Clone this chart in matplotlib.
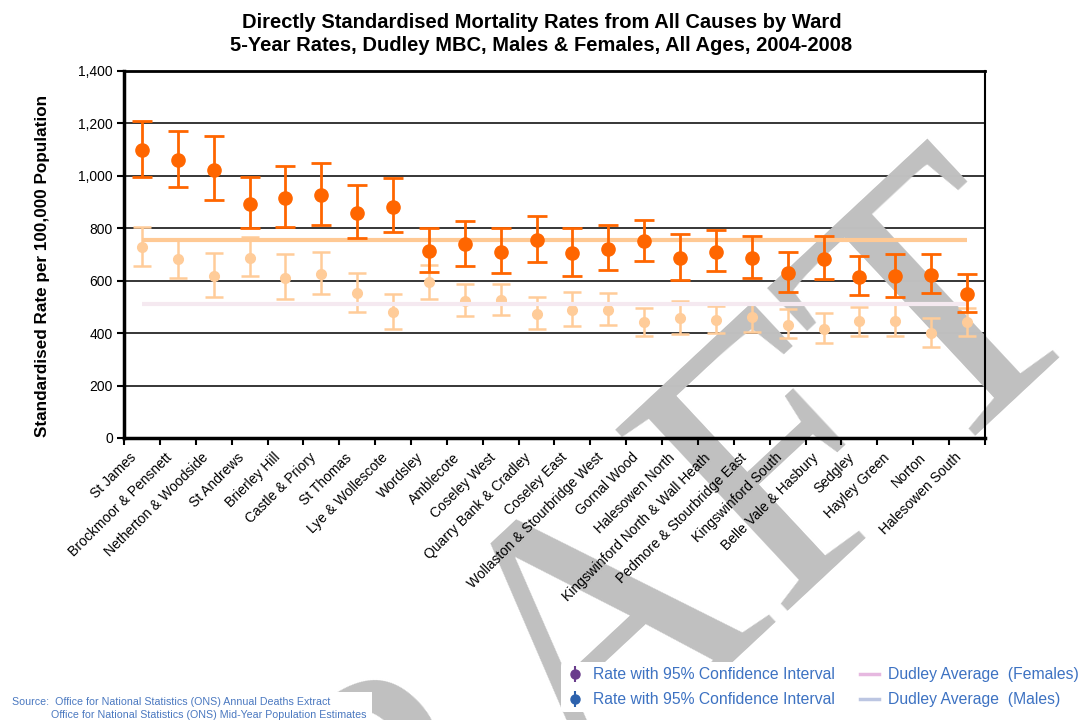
import numpy as np
import matplotlib
matplotlib.use('Agg')
import matplotlib.pyplot as plt

plt.rcParams['font.family'] = ['Liberation Sans', 'DejaVu Sans']

wards = ['St James', 'Brockmoor & Pensnett', 'Netherton & Woodside', 'St Andrews',
         'Brierley Hill', 'Castle & Priory', 'St Thomas', 'Lye & Wollescote',
         'Wordsley', 'Amblecote', 'Coseley West', 'Quarry Bank & Cradley',
         'Coseley East', 'Wollaston & Stourbridge West', 'Gornal Wood',
         'Halesowen North', 'Kingswinford North & Wall Heath',
         'Pedmore & Stourbridge East', 'Kingswinford South', 'Belle Vale & Hasbury',
         'Sedgley', 'Hayley Green', 'Norton', 'Halesowen South']

# males: rate, lower and upper 95% CI
male_rate = [1100, 1061, 1024, 894, 914, 926, 858, 883, 715, 739, 710, 754,
             705, 722, 752, 686, 711, 687, 630, 684, 616, 618, 623, 551]
male_low = [997, 958, 907, 801, 804, 811, 762, 785, 635, 656, 628, 671,
            618, 640, 677, 603, 636, 612, 556, 605, 544, 539, 552, 482]
male_high = [1211, 1171, 1152, 997, 1038, 1050, 964, 991, 801, 827, 801, 846,
             802, 813, 830, 778, 794, 770, 710, 772, 693, 703, 703, 627]

# females
female_rate = [727, 682, 618, 688, 610, 624, 552, 480, 594, 524, 527, 473,
               490, 488, 441, 458, 450, 460, 431, 416, 445, 448, 402, 441]
female_low = [655, 610, 539, 619, 532, 549, 482, 416, 532, 467, 469, 415,
              427, 430, 390, 397, 399, 406, 380, 361, 390, 388, 348, 390]
female_high = [806, 755, 705, 766, 702, 708, 628, 549, 660, 589, 589, 537,
               558, 553, 496, 524, 504, 512, 491, 477, 501, 512, 457, 495]

male_avg = 757
female_avg = 512

x = np.arange(len(wards))

fig = plt.figure(figsize=(10.83, 7.2), dpi=100)
ax = fig.add_axes([0.1145, 0.3917, 0.795, 0.5097])

ax.set_xlim(-0.5, len(wards) - 0.5)
ax.set_ylim(0, 1400)
yt = np.arange(0, 1401, 200)
for v in yt:
    ax.axhline(v, color='black', lw=1.1, zorder=0.8)

# DRAFT watermark
ax.text(0.1736, -0.611, 'DRAFT', transform=fig.transFigure, fontsize=274,
        family='Liberation Serif', color='#c0c0c0', rotation=43,
        rotation_mode='anchor', ha='left', va='baseline', zorder=1,
        clip_on=False)

fe = [np.array(female_rate) - np.array(female_low), np.array(female_high) - np.array(female_rate)]
me = [np.array(male_rate) - np.array(male_low), np.array(male_high) - np.array(male_rate)]

ax.errorbar(x, female_rate, yerr=fe, fmt='o', color='#ffcc99', ms=7, lw=1.8,
            capsize=6.5, capthick=1.8, zorder=2)
ax.plot([x[0], x[-1]], [female_avg, female_avg], color='#f5e9f0', lw=3, zorder=3,
        solid_capstyle='butt')
ax.plot([x[0], x[-1]], [male_avg, male_avg], color='#ffc994', lw=3, zorder=4,
        solid_capstyle='butt')
ax.errorbar(x, male_rate, yerr=me, fmt='o', color='#ff6600', ms=9.5, lw=2,
            capsize=7.5, capthick=2, zorder=5)

ax.set_yticks(yt)
ax.set_yticklabels(['{:,}'.format(v) for v in yt], fontsize=10)
ax.set_xticks(np.arange(-0.5, len(wards), 1))
ax.set_xticklabels([])
# ward names, rotated, ending just left of each category centre
for xi, w in zip(x, wards):
    ax.annotate(w, (xi, 0), xycoords=('data', 'axes fraction'), xytext=(-9, -9),
                textcoords='offset points', rotation=45, ha='right', va='top',
                rotation_mode='anchor', fontsize=10, zorder=3)
ax.tick_params(axis='x', length=5, width=1.5, direction='out')
ax.tick_params(axis='y', length=5, width=1.5, direction='out', pad=3)

for side in ['left', 'bottom']:
    ax.spines[side].set_linewidth(2.5)
ax.spines['top'].set_linewidth(2)
ax.spines['right'].set_linewidth(1.5)

ax.set_ylabel('Standardised Rate per 100,000 Population', fontsize=12.3,
              fontweight='bold')
ax.yaxis.set_label_coords(-0.086, 0.469)

fig.text(0.5, 0.982, 'Directly Standardised Mortality Rates from All Causes by Ward\n'
         '5-Year Rates, Dudley MBC, Males & Females, All Ages, 2004-2008',
         ha='center', va='top', fontsize=14.5, fontweight='bold', linespacing=1.3)

# source note
src = fig.text(0.011, 0.0155, 'Source:  Office for National Statistics (ONS) Annual Deaths Extract\n'
               '             Office for National Statistics (ONS) Mid-Year Population Estimates',
               ha='left', va='center', fontsize=7.7, color='#4a78c0',
               family=['Liberation Sans Narrow', 'Liberation Sans'], linespacing=1.35)
src.set_bbox(dict(facecolor='white', edgecolor='none', pad=4))

# legend proxies
h1 = ax.errorbar([], [], yerr=[], fmt='o', color='#6a3d8c', ms=6.5, lw=1.5, capsize=4)
h2 = ax.errorbar([], [], yerr=[], fmt='o', color='#2d62ad', ms=6.5, lw=1.5, capsize=4)
h3, = ax.plot([], [], color='#e6b8e0', lw=2.5)
h4, = ax.plot([], [], color='#bcc6e2', lw=2.5)
leg = fig.legend([h1, h2, h3, h4],
                 ['Rate with 95% Confidence Interval', 'Rate with 95% Confidence Interval',
                  'Dudley Average  (Females)', 'Dudley Average  (Males)'],
                 ncol=2, loc='lower right', bbox_to_anchor=(1.0, 0.011), fontsize=11.3,
                 frameon=True, facecolor='white', edgecolor='none', framealpha=1,
                 handlelength=1.2, handletextpad=0.55, columnspacing=1.6,
                 labelspacing=0.65, borderpad=0.3, borderaxespad=0)
for t in leg.get_texts():
    t.set_color('#3d72c2')

fig.savefig('out.png', dpi=100)
